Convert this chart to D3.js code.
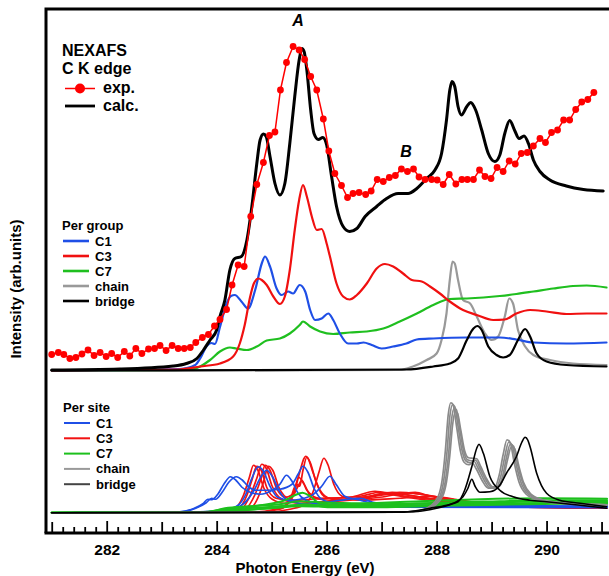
<!DOCTYPE html>
<html>
<head>
<meta charset="utf-8">
<script src="https://cdn.jsdelivr.net/npm/d3@7"></script>
<style>
  body { margin: 0; background: #fff; }
  svg { display: block; font-family: "Liberation Sans", Arial, Helvetica, sans-serif; }
</style>
</head>
<body>
<svg id="chart" width="609" height="576"></svg>
<script>
// ---------- data (energy in eV, intensity in arbitrary units) ----------
const energyTicks = [282, 284, 286, 288, 290];
const groupLabels = ["C1", "C3", "C7", "chain", "bridge"];

// measured NEXAFS spectrum
const expE = [281.00,281.12,281.22,281.33,281.44,281.55,281.66,281.77,281.88,281.99,
  282.09,282.20,282.32,282.42,282.53,282.64,282.76,282.87,282.97,283.08,
  283.19,283.30,283.41,283.52,283.62,283.74,283.85,283.96,284.06,284.18,
  284.28,284.39,284.50,284.62,284.73,284.85,284.96,285.06,285.16,285.27,
  285.39,285.50,285.60,285.71,285.82,285.94,286.04,286.15,286.27,286.38,
  286.48,286.59,286.71,286.81,286.92,287.03,287.14,287.25,287.36,287.47,
  287.58,287.68,287.79,287.91,288.01,288.12,288.23,288.35,288.46,288.56,
  288.67,288.78,288.88,288.99,289.10,289.21,289.32,289.43,289.54,289.65,
  289.76,289.88,289.98,290.09,290.20,290.31,290.42,290.53,290.64,290.75,290.86];
const expI = [3.2,3.6,3.2,2.4,2.6,3.3,4.1,3.0,3.6,2.8,
  3.4,2.6,3.8,2.9,4.4,3.4,4.3,4.4,5.0,4.0,
  5.0,4.4,4.4,4.6,5.6,6.6,7.2,8.9,10.2,12.2,
  17.1,21.1,20.8,30.8,37.2,41.6,47.0,47.7,56.1,61.6,
  64.8,64.1,62.2,58.8,56.1,50.3,43.9,39.4,37.0,34.6,
  35.4,35.6,35.2,35.9,38.2,37.8,38.6,39.0,40.3,39.8,
  40.3,38.7,38.2,38.2,38.1,37.2,39.2,37.3,38.2,38.2,
  38.2,40.1,38.8,38.4,40.6,39.8,41.9,41.3,43.4,43.6,
  44.9,46.4,45.6,47.6,48.1,50.1,50.1,52.2,53.7,54.2,55.6];

// calculated total spectrum [E, I]
const calc = [[281.00,0.1],[282.24,0.3],[283.21,0.9],[283.45,1.4],[283.64,2.4],[283.76,4.1],[283.88,6.1],
  [284.00,8.1],[284.06,10.8],[284.15,14.1],[284.24,20.1],[284.33,22.4],[284.45,22.8],[284.55,26.1],
  [284.64,32.8],[284.73,41.4],[284.79,46.1],[284.85,47.3],[284.90,46.8],[284.97,42.8],[285.06,37.4],
  [285.15,35.1],[285.24,37.4],[285.33,45.4],[285.42,54.8],[285.50,62.1],[285.55,64.4],[285.59,63.8],
  [285.64,60.1],[285.71,52.1],[285.77,47.4],[285.85,46.2],[285.93,46.6],[286.00,45.1],[286.09,38.8],
  [286.18,32.8],[286.30,28.8],[286.42,27.8],[286.55,28.4],[286.70,30.8],[286.91,32.8],[287.09,34.4],
  [287.30,35.4],[287.48,35.4],[287.64,36.4],[287.82,38.4],[287.97,40.1],[288.09,43.4],[288.18,50.1],
  [288.24,56.1],[288.28,57.8],[288.33,56.8],[288.39,52.8],[288.45,51.1],[288.55,52.8],[288.62,53.6],
  [288.71,52.1],[288.82,48.1],[288.94,43.4],[289.06,41.8],[289.15,43.1],[289.24,47.4],[289.33,50.0],
  [289.42,48.0],[289.50,46.4],[289.59,46.9],[289.67,45.4],[289.76,42.1],[289.88,39.8],[290.06,38.1],
  [290.36,36.9],[290.67,36.2],[291.03,35.9]];

// contributions per group [E, I]
const groupC1 = [[281.00,0],[283.33,0.3],[283.61,1.1],[283.70,2.4],[283.82,4.9],[283.90,5.5],[283.97,5.3],
  [284.06,8.7],[284.18,13.4],[284.26,14.9],[284.33,15.1],[284.45,13.8],[284.57,12.4],[284.70,16.1],
  [284.82,21.4],[284.88,22.8],[284.97,20.8],[285.09,16.4],[285.18,15.1],[285.30,15.8],[285.39,15.4],
  [285.51,17.1],[285.61,15.8],[285.70,12.1],[285.79,10.1],[285.91,10.4],[286.03,11.4],[286.12,10.1],
  [286.24,7.4],[286.39,5.4],[286.55,5.4],[286.67,5.6],[286.82,5.1],[287.00,4.4],[287.21,4.8],
  [287.45,5.4],[287.64,6.2],[287.94,6.4],[288.55,6.6],[289.15,6.6],[289.45,6.2],[289.76,5.6],
  [290.36,5.4],[291.09,5.6]];
const groupC3 = [[281.00,0],[283.30,0.2],[283.70,0.8],[284.06,1.4],[284.30,2.8],[284.42,5.4],[284.51,9.1],
  [284.61,14.8],[284.68,17.5],[284.76,18.4],[284.82,18.1],[284.91,17.1],[285.03,14.8],[285.15,13.3],
  [285.24,14.8],[285.33,20.1],[285.42,28.1],[285.50,34.1],[285.57,37.1],[285.64,34.8],[285.73,30.8],
  [285.82,28.1],[285.91,28.3],[286.00,25.4],[286.06,22.8],[286.18,17.4],[286.30,14.8],[286.42,14.2],
  [286.55,15.1],[286.73,17.4],[286.91,20.4],[287.06,21.3],[287.21,20.8],[287.39,19.4],[287.55,18.1],
  [287.73,17.8],[287.88,16.8],[288.06,15.4],[288.24,13.8],[288.48,12.1],[288.73,11.1],[289.03,10.1],
  [289.24,10.2],[289.45,11.4],[289.70,12.1],[290.00,11.8],[290.36,11.3],[290.73,11.4],[291.09,11.4]];
const groupC7 = [[281.00,0],[283.51,0.1],[283.70,0.8],[283.88,2.1],[284.06,3.8],[284.24,4.6],[284.36,4.4],
  [284.55,4.1],[284.73,4.8],[284.91,6.0],[285.15,6.4],[285.33,7.4],[285.51,9.1],[285.57,9.8],
  [285.70,8.8],[285.88,7.8],[286.12,7.3],[286.42,7.6],[286.73,7.8],[287.03,8.4],[287.33,9.8],
  [287.64,11.4],[287.94,13.1],[288.24,14.3],[288.55,14.4],[288.85,14.6],[289.15,14.9],[289.45,15.3],
  [289.76,15.8],[290.12,16.4],[290.48,16.9],[290.73,17.0],[291.09,16.6]];
const groupChain = [[281.00,0],[287.33,0.1],[287.57,0.8],[287.82,2.1],[288.00,3.4],[288.09,6.1],[288.18,11.4],
  [288.24,18.1],[288.29,21.8],[288.33,21.4],[288.39,18.1],[288.48,14.1],[288.61,13.4],[288.73,10.8],
  [288.88,7.4],[289.00,6.1],[289.12,6.8],[289.24,10.8],[289.32,14.4],[289.39,13.4],[289.48,8.1],
  [289.61,4.8],[289.76,3.1],[290.06,2.1],[290.48,1.4],[291.09,1.1]];
const groupBridge = [[281.00,0],[287.45,0.2],[287.94,0.8],[288.24,1.4],[288.39,2.4],[288.55,6.1],[288.67,8.4],
  [288.74,8.9],[288.82,8.1],[288.94,4.8],[289.09,3.1],[289.21,2.6],[289.33,3.1],[289.48,6.1],
  [289.61,8.3],[289.70,6.8],[289.82,3.4],[290.00,1.8],[290.36,1.1],[291.09,0.8]];

// contributions per individual site [E, I]
const siteC1 = [
  [[281.0,0],[283.33,0.2],[283.57,0.8],[283.75,1.8],[283.84,2.7],[283.91,2.6],[284.02,3.7],[284.13,5.7],
   [284.25,7.2],[284.35,6.5],[284.46,5.1],[284.61,4.1],[284.79,3.7],[285.01,4.5],[285.15,5.7],[285.27,7.5],
   [285.37,6.3],[285.48,3.9],[285.62,2.5],[285.88,1.7],[286.42,1.3],[287.33,1.1],[291.10,1.0]],
  [[281.0,0],[283.37,0.2],[283.62,0.9],[283.81,2.0],[283.91,2.9],[283.98,2.7],[284.10,4.1],[284.22,6.1],
   [284.36,7.2],[284.46,6.6],[284.57,5.3],[284.71,4.5],[284.90,4.5],[285.15,4.7],[285.37,5.7],[285.48,7.7],
   [285.57,9.3],[285.66,8.1],[285.77,4.9],[285.91,2.7],[286.24,1.7],[287.33,1.3],[291.10,1.2]],
  [[281.0,0],[283.70,0.2],[284.15,0.5],[284.39,1.5],[284.53,3.7],[284.64,6.9],[284.76,9.2],[284.84,8.5],
   [284.97,5.3],[285.11,3.1],[285.33,2.5],[285.70,3.3],[285.91,5.3],[286.06,7.3],[286.17,5.7],[286.33,3.3],
   [286.61,2.5],[286.84,1.9],[287.33,1.5],[291.10,1.3]],
  [[281.0,0],[283.79,0.2],[284.24,0.6],[284.50,1.9],[284.68,4.5],[284.81,7.3],[284.91,8.5],[285.01,7.3],
   [285.15,4.1],[285.33,2.3],[285.70,1.7],[286.24,2.5],[286.61,2.9],[286.84,2.1],[287.33,1.5],[291.10,1.3]]
];
const siteC3 = [
  [[281.0,0],[283.97,0.1],[284.33,0.9],[284.48,3.3],[284.59,6.9],[284.67,9.5],[284.75,8.5],[284.86,4.9],
   [285.01,2.7],[285.24,1.9],[285.51,2.5],[286.06,2.9],[286.61,3.3],[286.97,4.1],[287.33,3.7],[287.88,2.9],
   [288.42,2.1],[289.15,1.3],[291.10,0.9]],
  [[281.0,0],[284.02,0.1],[284.39,0.9],[284.55,3.5],[284.64,6.5],[284.73,9.3],[284.81,8.5],[284.91,5.1],
   [285.08,2.9],[285.33,2.5],[285.48,5.3],[285.55,6.5],[285.64,4.5],[285.88,2.9],[286.42,3.1],[286.88,4.3],
   [287.24,3.5],[287.70,2.7],[288.42,1.9],[289.15,1.3],[291.10,0.9]],
  [[281.0,0],[284.10,0.1],[284.46,0.9],[284.62,3.7],[284.73,6.9],[284.82,9.7],[284.90,8.9],[285.01,5.3],
   [285.19,2.7],[285.51,1.9],[286.24,2.5],[286.79,3.3],[287.33,4.1],[287.70,3.7],[288.15,2.9],[288.61,2.1],
   [291.10,0.9]],
  [[281.0,0],[284.17,0.1],[284.53,0.9],[284.70,3.7],[284.81,6.9],[284.88,9.5],[284.97,8.5],[285.08,5.1],
   [285.24,3.1],[285.39,3.7],[285.49,7.1],[285.59,5.7],[285.73,3.1],[286.06,2.5],[286.61,2.9],[287.15,3.7],
   [287.52,3.9],[288.06,3.1],[288.61,2.1],[291.10,0.9]],
  [[281.0,0],[284.24,0.1],[284.61,0.9],[284.77,3.5],[284.86,6.5],[284.94,9.3],[285.02,8.5],[285.13,5.1],
   [285.33,2.7],[285.70,2.1],[286.42,2.5],[286.97,3.1],[287.61,4.1],[287.88,3.3],[288.42,2.3],[291.10,0.9]],
  [[281.0,0],[284.61,0.1],[285.06,0.7],[285.30,1.9],[285.42,4.5],[285.51,8.1],[285.59,10.9],[285.62,11.3],
   [285.66,10.9],[285.75,8.1],[285.88,4.5],[286.06,2.9],[286.42,2.7],[286.79,3.3],[287.19,4.1],[287.52,3.5],
   [288.06,2.5],[291.10,0.9]],
  [[281.0,0],[284.70,0.1],[285.15,0.7],[285.33,2.5],[285.45,5.7],[285.51,5.3],[285.57,8.5],[285.64,11.1],
   [285.70,10.1],[285.81,6.1],[285.95,3.3],[286.24,2.5],[286.70,3.1],[287.06,3.9],[287.42,3.3],[288.06,2.5],
   [291.10,0.9]],
  [[281.0,0],[284.88,0.1],[285.33,0.7],[285.61,1.7],[285.75,4.1],[285.86,8.1],[285.95,10.9],[286.02,9.7],
   [286.13,5.7],[286.28,3.3],[286.61,2.5],[287.33,2.9],[287.88,3.3],[288.33,2.7],[288.79,1.9],[291.10,0.9]]
];
const siteC7 = [
  [[281.0,0],[283.70,0.1],[284.24,0.9],[284.79,1.5],[285.24,2.5],[285.42,3.5],[285.56,4.0],[285.70,3.3],
   [285.88,1.9],[286.42,1.5],[287.33,1.7],[288.24,2.1],[289.15,2.3],[290.06,2.5],[291.10,2.5]],
  [[281.0,0],[283.79,0.1],[284.15,0.9],[284.61,1.3],[285.15,1.7],[285.51,2.3],[285.88,2.1],[286.61,1.9],
   [287.70,2.3],[288.79,2.7],[289.88,2.9],[291.10,2.8]],
  [[281.0,0],[283.88,0.1],[284.33,0.7],[284.88,1.1],[285.42,1.5],[286.06,1.5],[286.97,1.7],[288.06,1.9],
   [289.15,2.1],[290.24,2.3],[291.10,2.2]],
  [[281.0,0],[283.97,0.1],[284.42,0.5],[284.97,0.9],[285.51,1.3],[286.24,1.2],[287.33,1.4],[288.42,1.7],
   [289.51,1.9],[291.10,2.0]],
  [[281.0,0],[284.06,0.1],[284.61,0.6],[285.15,1.1],[285.61,1.7],[286.06,1.1],[286.97,1.1],[288.06,1.4],
   [289.15,1.6],[290.24,1.8],[291.10,1.9]]
];
const siteChain = [
  [[281.0,0],[287.30,0.1],[287.67,0.4],[287.88,1.3],[288.03,3.3],[288.10,6.5],[288.16,12.5],[288.21,19.5],
   [288.26,22.0],[288.30,21.6],[288.36,17.5],[288.43,12.5],[288.50,10.1],[288.58,9.6],[288.65,9.9],
   [288.72,8.8],[288.83,6.4],[288.94,4.9],[289.05,4.9],[289.14,7.6],[289.21,11.6],[289.28,14.6],
   [289.34,14.0],[289.41,10.1],[289.50,6.1],[289.63,3.7],[289.85,2.5],[290.21,1.9],[291.10,1.5]],
  [[281.0,0],[287.33,0.1],[287.70,0.4],[287.91,1.3],[288.06,3.3],[288.13,6.5],[288.19,12.3],[288.24,19.2],
   [288.29,21.6],[288.33,21.2],[288.39,17.3],[288.46,12.6],[288.53,10.4],[288.61,10.0],[288.68,10.3],
   [288.75,9.0],[288.86,6.6],[288.97,5.0],[289.08,5.0],[289.17,7.4],[289.24,11.2],[289.31,14.1],
   [289.37,13.6],[289.44,10.0],[289.53,6.2],[289.66,3.8],[289.88,2.6],[290.24,2.0],[291.10,1.6]],
  [[281.0,0],[287.36,0.1],[287.73,0.5],[287.94,1.4],[288.09,3.4],[288.16,6.4],[288.22,12.0],[288.27,18.5],
   [288.32,20.9],[288.36,20.6],[288.42,16.9],[288.49,12.4],[288.56,10.6],[288.64,10.4],[288.71,10.5],
   [288.78,9.1],[288.89,6.7],[289.00,5.1],[289.11,5.1],[289.20,7.3],[289.27,11.0],[289.34,13.7],
   [289.40,13.3],[289.47,9.8],[289.56,6.2],[289.69,3.8],[289.91,2.6],[290.27,2.0],[291.10,1.6]],
  [[281.0,0],[287.38,0.1],[287.75,0.5],[287.96,1.4],[288.11,3.3],[288.18,6.2],[288.24,11.4],[288.29,17.5],
   [288.34,20.2],[288.38,19.9],[288.44,16.5],[288.51,12.4],[288.58,11.0],[288.66,10.9],[288.73,10.8],
   [288.80,9.3],[288.91,6.8],[289.02,5.2],[289.13,5.2],[289.22,7.2],[289.29,10.6],[289.36,13.2],
   [289.42,12.8],[289.49,9.6],[289.58,6.1],[289.71,3.8],[289.93,2.6],[290.29,2.0],[291.10,1.6]]
];
const siteBridge = [
  [[281.0,0],[287.33,0.1],[287.88,0.9],[288.18,1.5],[288.39,2.2],[288.51,4.5],[288.64,9.2],[288.73,12.9],
   [288.77,13.7],[288.85,11.9],[288.97,7.2],[289.15,4.5],[289.39,3.2],[289.70,2.5],[290.00,2.2],
   [290.61,1.5],[291.09,0.9]],
  [[281.0,0],[287.57,0.2],[288.00,0.9],[288.30,1.9],[288.48,3.2],[288.57,4.9],[288.64,6.7],[288.70,5.3],
   [288.79,4.1],[288.97,4.2],[289.15,5.5],[289.27,7.9],[289.45,11.2],[289.55,14.1],[289.61,15.1],
   [289.66,14.5],[289.70,13.2],[289.82,7.9],[290.00,3.9],[290.24,2.5],[290.61,1.9],[291.09,1.2]]
];

// ---------- layout ----------
const W = 609, H = 576;
const plot = { left: 46, right: 612, top: 9, bottom: 533 };
const GROUP_BASE = 32.5;   // vertical offset of the upper panel
const SITE_BASE = 4.05;    // vertical offset of the per-site panel

const colors = {
  C1: "#1f4fe6", C3: "#f01010", C7: "#1fbf1f", chain: "#999999", bridge: "#000000"
};
const siteColors = {
  C1: "#1f4fe6", C3: "#f21212", C7: "#1cc01c", chain: "#8a8a8a", bridge: "#000000"
};

const svg = d3.select("#chart");

const x = d3.scaleLinear().domain([280.896, 291.19]).range([plot.left, plot.right]);
const y = d3.scaleLinear().domain([0, 105]).range([plot.bottom, plot.bottom - 105 * 5]);

const lineAt = base => d3.line()
  .x(d => x(d[0]))
  .y(d => y(base + d[1]))
  .curve(d3.curveMonotoneX);

function drawCurve(pts, base, color, width) {
  svg.append("path")
    .datum(pts)
    .attr("d", lineAt(base))
    .attr("fill", "none")
    .attr("stroke", color)
    .attr("stroke-width", width)
    .attr("stroke-linejoin", "round")
    .attr("stroke-linecap", "round");
}

// ---------- per-site panel ----------
siteC3.forEach(c => drawCurve(c, SITE_BASE, siteColors.C3, 1.7));
siteC1.forEach(c => drawCurve(c, SITE_BASE, siteColors.C1, 1.7));
siteC7.forEach(c => drawCurve(c, SITE_BASE, siteColors.C7, 2));
siteChain.forEach(c => drawCurve(c, SITE_BASE, siteColors.chain, 1.7));
siteBridge.forEach(c => drawCurve(c, SITE_BASE, siteColors.bridge, 1.6));

// ---------- per-group panel ----------
drawCurve(groupChain, GROUP_BASE, colors.chain, 2.2);
drawCurve(groupC7, GROUP_BASE, colors.C7, 2.2);
drawCurve(groupC1, GROUP_BASE, colors.C1, 2.2);
drawCurve(groupC3, GROUP_BASE, colors.C3, 2.2);
drawCurve(groupBridge, GROUP_BASE, colors.bridge, 2.2);

// calculated total
drawCurve(calc, GROUP_BASE, "#000", 3);

// experiment: line + markers
const expPts = expE.map((e, i) => [e, expI[i]]);
svg.append("path")
  .datum(expPts)
  .attr("d", d3.line().x(d => x(d[0])).y(d => y(GROUP_BASE + d[1])))
  .attr("fill", "none")
  .attr("stroke", "#ff0000")
  .attr("stroke-width", 1.5);
svg.append("g").selectAll("circle")
  .data(expPts)
  .join("circle")
  .attr("cx", d => x(d[0]))
  .attr("cy", d => y(GROUP_BASE + d[1]))
  .attr("r", 3.4)
  .attr("fill", "#ff0000");

// ---------- axes & frame ----------
const minorTicks = d3.range(281, 291.01, 0.2).map(v => +v.toFixed(1))
  .filter(v => Math.abs(v - Math.round(v)) > 1e-6);
const oddTicks = [281, 283, 285, 287, 289, 291];

function tickAxis(values, len, labels) {
  const ax = d3.axisBottom(x)
    .tickValues(values)
    .tickSizeInner(-len)
    .tickSizeOuter(0)
    .tickPadding(11)
    .tickFormat(labels ? d3.format("d") : "");
  const g = svg.append("g")
    .attr("transform", `translate(0,${plot.bottom})`)
    .call(ax);
  g.select(".domain").remove();
  g.selectAll(".tick line").attr("stroke", "#000").attr("stroke-width", 1.8);
  g.selectAll(".tick text")
    .attr("font-family", '"Liberation Sans", Arial, sans-serif')
    .attr("font-size", 15.5)
    .attr("font-weight", "bold")
    .attr("fill", "#000");
  return g;
}
tickAxis(minorTicks, 6, false);
tickAxis(oddTicks, 11, false);
tickAxis(energyTicks, 12, true);

svg.append("path")
  .attr("d", `M${plot.left},${plot.bottom} V${plot.top} H${W}`)
  .attr("fill", "none")
  .attr("stroke", "#000")
  .attr("stroke-width", 3);
svg.append("path")
  .attr("d", `M${plot.left - 1.5},${plot.bottom} H${W}`)
  .attr("fill", "none")
  .attr("stroke", "#000")
  .attr("stroke-width", 3);

// axis titles
svg.append("text")
  .attr("x", 305).attr("y", 573)
  .attr("text-anchor", "middle")
  .attr("font-size", 15).attr("font-weight", "bold")
  .text("Photon Energy (eV)");
svg.append("text")
  .attr("transform", "translate(21,289) rotate(-90)")
  .attr("text-anchor", "middle")
  .attr("font-size", 15).attr("font-weight", "bold")
  .text("Intensity (arb.units)");

// peak labels
svg.append("text")
  .attr("x", 298).attr("y", 26)
  .attr("text-anchor", "middle")
  .attr("font-size", 16).attr("font-weight", "bold").attr("font-style", "italic")
  .text("A");
svg.append("text")
  .attr("x", 406).attr("y", 157)
  .attr("text-anchor", "middle")
  .attr("font-size", 16).attr("font-weight", "bold").attr("font-style", "italic")
  .text("B");

// ---------- legends ----------
const lg = svg.append("g").attr("font-weight", "bold").attr("fill", "#000");
lg.append("text").attr("x", 62).attr("y", 56).attr("font-size", 16).text("NEXAFS");
lg.append("text").attr("x", 62).attr("y", 74).attr("font-size", 16).text("C K edge");
lg.append("line").attr("x1", 65).attr("x2", 95).attr("y1", 88.5).attr("y2", 88.5)
  .attr("stroke", "#ff0000").attr("stroke-width", 1.5);
lg.append("circle").attr("cx", 80).attr("cy", 88.5).attr("r", 5).attr("fill", "#ff0000");
lg.append("text").attr("x", 103).attr("y", 92.5).attr("font-size", 16).text("exp.");
lg.append("line").attr("x1", 65).attr("x2", 95).attr("y1", 106).attr("y2", 106)
  .attr("stroke", "#000").attr("stroke-width", 2.8);
lg.append("text").attr("x", 103).attr("y", 110.5).attr("font-size", 16).text("calc.");

function groupLegend(title, x0, yTitle, yFirst, step, cmap, lw) {
  const g = svg.append("g").attr("font-weight", "bold").attr("font-size", 13);
  g.append("text").attr("x", x0).attr("y", yTitle).text(title);
  groupLabels.forEach((name, i) => {
    const yy = yFirst + i * step;
    g.append("line").attr("x1", x0 + 1).attr("x2", x0 + 27).attr("y1", yy).attr("y2", yy)
      .attr("stroke", cmap[name]).attr("stroke-width", lw);
    g.append("text").attr("x", x0 + 33).attr("y", yy + 4.5).text(name);
  });
}
groupLegend("Per group", 62, 229.5, 241, 15, colors, 2.6);
groupLegend("Per site", 63, 412, 423, 15.3, { C1: "#1f4fe6", C3: "#f21212", C7: "#1cc01c", chain: "#999", bridge: "#444" }, 2);
</script>
</body>
</html>
